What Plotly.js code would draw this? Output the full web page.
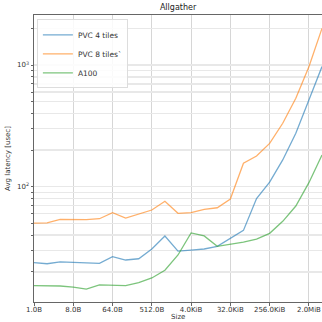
<!DOCTYPE html>
<html><head><meta charset="utf-8">
<script src="https://cdn.plot.ly/plotly-3.0.1.min.js"></script>
<style>html,body{margin:0;padding:0;background:#fff}#c{width:322px;height:322px}</style>
</head><body><div id="c"></div>
<script>
const sizes = [1,2,4,8,16,32,64,128,256,512,1024,2048,4096,8192,16384,32768,65536,131072,262144,524288,1048576,2097152,4194304];
const pvc4 = [23.8,23.3,24.1,23.9,23.9,23.5,26.6,25.0,25.6,30.8,39.4,29.6,30.2,30.8,32.4,37.4,43.8,80,109,166,275,515,970];
const pvc8 = [50.3,50.5,54,54,53.7,54.6,61.2,55.3,59.7,64.4,75.9,60.5,61.2,65.2,67.2,79.2,156,179,227,332,533,968,2000];
const a100 = [15.4,15.4,15.3,15.0,14.4,15.6,15.5,15.4,16.3,17.8,20.6,27.5,41.7,39.4,32.4,33.6,35.1,37.2,41.4,52,69.4,108,182];
const xTickVals = [1,8,64,512,4096,32768,262144,2097152];
const xTickText = ["1.0B","8.0B","64.0B","512.0B","4.0KiB","32.0KiB","256.0KiB","2.0MiB"];
const names = ["PVC 4 tiles","PVC 8 tiles`","A100"];
const colors = ["#1f77b4","#ff7f0e","#2ca02c"];
const series = [pvc4,pvc8,a100];

const yTickVals = [], yTickText = [];
for (const d of [10,100,1000]) for (let k=1;k<10;k++){ const v=d*k; if(v>=11&&v<=2600){yTickVals.push(v); yTickText.push(k===1?(d===100?"10<sup>2</sup>":d===1000?"10<sup>3</sup>":""):"");} }

const traces = series.map((s,i)=>({x:sizes,y:s,type:'scatter',mode:'lines',name:names[i],
  line:{color:colors[i],width:1.3},opacity:0.62}));

const f = {family:'DejaVu Sans',size:7.5,color:'#333'};
Plotly.newPlot('c',traces,{
  width:322,height:322,
  margin:{l:34,r:0,t:15,b:20},
  paper_bgcolor:'#fff',plot_bgcolor:'#fff',
  font:f,
  title:{text:'Allgather',font:{family:'DejaVu Sans',size:8,color:'#222'},x:0.553,xanchor:'center',y:0.985,yanchor:'top'},
  showlegend:true,
  legend:{x:0.01,y:0.985,xanchor:'left',yanchor:'top',bgcolor:'rgba(255,255,255,0.85)',bordercolor:'#ddd',borderwidth:1,
    font:{family:'DejaVu Sans',size:7.5,color:'#333'},tracegroupgap:0,itemwidth:30},
  annotations:[{text:'Size',xref:'paper',yref:'paper',x:0.5,y:-0.068,xanchor:'center',yanchor:'bottom',showarrow:false,borderpad:0,
    font:{family:'DejaVu Sans',size:7,color:'#333'}}],
  xaxis:{type:'log',range:[0,Math.log10(4194304)],tickvals:xTickVals,ticktext:xTickText,
    showgrid:true,gridcolor:'#d6d6d6',gridwidth:1,zeroline:false,
    showline:true,linecolor:'#666',linewidth:1,mirror:true,ticklabelstandoff:-2,
    ticks:'outside',ticklen:3,tickcolor:'#666',tickfont:{family:'DejaVu Sans',size:7,color:'#333'}},
  yaxis:{type:'log',range:[Math.log10(11.3),Math.log10(2575)],tickvals:yTickVals,ticktext:yTickText,
    showgrid:true,gridcolor:'#e8e8e8',gridwidth:1.5,zeroline:false,
    showline:true,linecolor:'#666',linewidth:1,mirror:true,
    ticks:'outside',ticklen:2.5,tickcolor:'#666',tickfont:{family:'DejaVu Sans',size:7,color:'#333'},
    title:{text:'Avg latency [usec]',font:{family:'DejaVu Sans',size:7,color:'#333'},standoff:5}}
},{staticPlot:true,displayModeBar:false});
</script></body></html>
